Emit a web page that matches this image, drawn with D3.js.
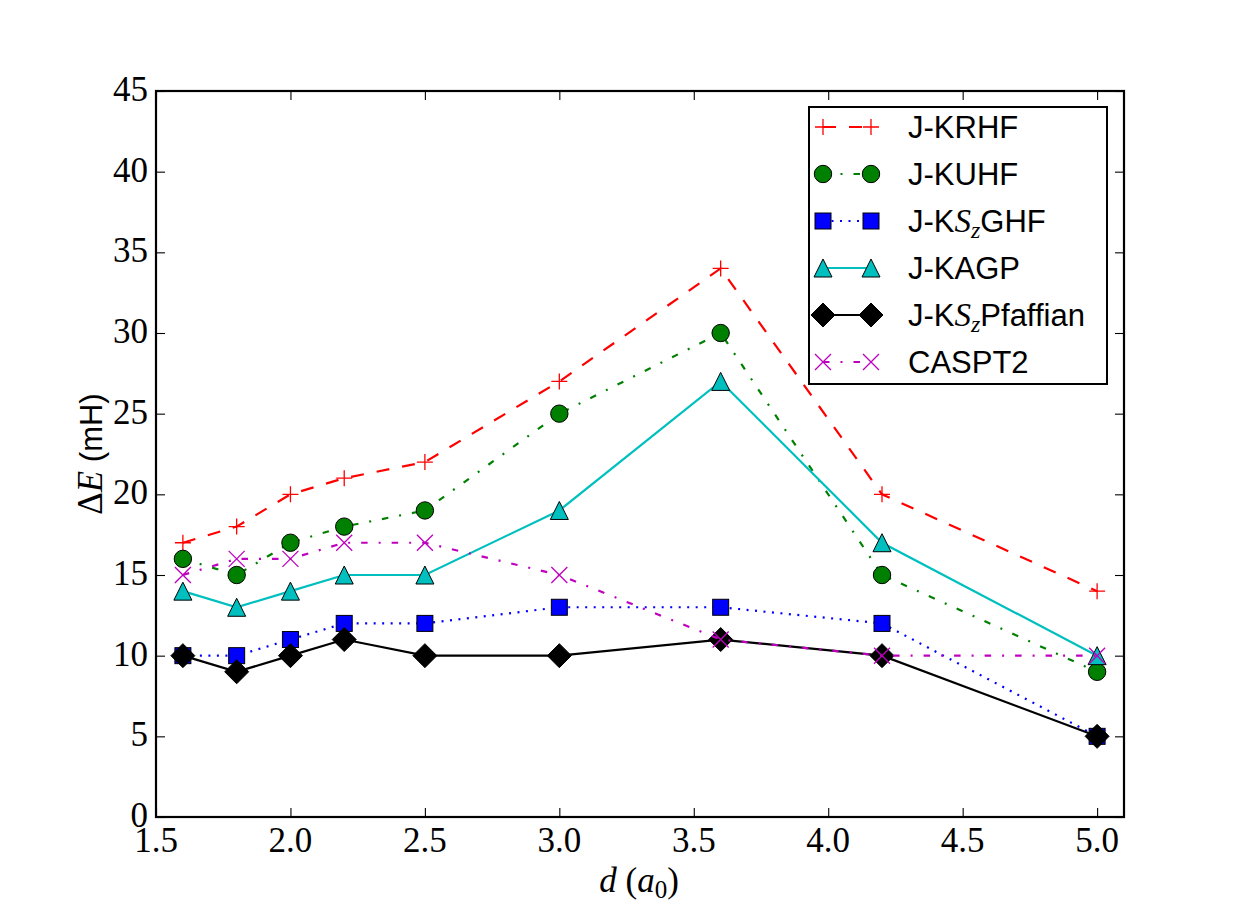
<!DOCTYPE html>
<html>
<head>
<meta charset="utf-8">
<script src="https://cdn.jsdelivr.net/npm/d3@7"></script>
<style>
  body { margin: 0; background: #ffffff; }
  svg { display: block; }
</style>
</head>
<body>
<div id="chart"></div>
<script>
// data
var distances = [1.6, 1.8, 2.0, 2.2, 2.5, 3.0, 3.6, 4.2, 5.0];
var krhf      = [17, 18, 20, 21, 22, 27, 34, 20, 14];
var kuhf      = [16, 15, 17, 18, 19, 25, 30, 15, 9];
var kszghf    = [10, 10, 11, 12, 12, 13, 13, 12, 5];
var kagp      = [14, 13, 14, 15, 15, 19, 27, 17, 10];
var pfaffian  = [10, 9, 10, 11, 10, 10, 11, 10, 5];
var caspt2    = [15, 16, 16, 17, 17, 15, 11, 10, 10];
var xTicks = [1.5, 2.0, 2.5, 3.0, 3.5, 4.0, 4.5, 5.0];
var yTicks = [0, 5, 10, 15, 20, 25, 30, 35, 40, 45];

var width = 1249, height = 908;
var margin = {left: 156, right: 125, top: 91, bottom: 91};
var serif = "'Liberation Serif', 'DejaVu Serif', serif";
var sans = "'Liberation Sans', Arial, sans-serif";

// series config: name parts, color, dash, marker
var series = [
  {name: [["J-KRHF"]], values: krhf, color: "#ff0000", dash: "13,13", marker: "plus"},
  {name: [["J-KUHF"]], values: kuhf, color: "#008000", dash: "6.5,11,2,11", marker: "circle"},
  {name: [["J-K"], ["S", "m"], ["z", "sub"], ["GHF"]], values: kszghf, color: "#0000ff", dash: "2,6.5", marker: "square"},
  {name: [["J-KAGP"]], values: kagp, color: "#00bfbf", dash: null, marker: "triangle"},
  {name: [["J-K"], ["S", "m"], ["z", "sub"], ["Pfaffian"]], values: pfaffian, color: "#000000", dash: null, marker: "diamond"},
  {name: [["CASPT2"]], values: caspt2, color: "#bf00bf", dash: "6.5,11,2,11", marker: "cross"}
];

var svg = d3.select("#chart").append("svg")
  .attr("width", width)
  .attr("height", height);

var x = d3.scaleLinear().domain([1.5, 5.1]).range([margin.left, width - margin.right]);
var y = d3.scaleLinear().domain([0, 45]).range([height - margin.bottom, margin.top]);

var x0 = margin.left, x1 = width - margin.right;
var y0 = height - margin.bottom, y1 = margin.top;
var tickLen = 9;

// ticks (inside, on all four sides)
var axes = svg.append("g").attr("class", "axes");
axes.append("g")
  .attr("transform", "translate(0," + y0 + ")")
  .call(d3.axisTop(x).tickValues(xTicks).tickSize(tickLen).tickFormat(""))
  .call(function(g) { g.select(".domain").remove(); });
axes.append("g")
  .attr("transform", "translate(0," + y1 + ")")
  .call(d3.axisBottom(x).tickValues(xTicks).tickSize(tickLen).tickFormat(""))
  .call(function(g) { g.select(".domain").remove(); });
axes.append("g")
  .attr("transform", "translate(" + x0 + ",0)")
  .call(d3.axisRight(y).tickValues(yTicks).tickSize(tickLen).tickFormat(""))
  .call(function(g) { g.select(".domain").remove(); });
axes.append("g")
  .attr("transform", "translate(" + x1 + ",0)")
  .call(d3.axisLeft(y).tickValues(yTicks).tickSize(tickLen).tickFormat(""))
  .call(function(g) { g.select(".domain").remove(); });
axes.selectAll(".tick line").attr("stroke", "#000").attr("stroke-width", 1.1);

// tick labels
axes.selectAll("text.xlab")
  .data(xTicks).enter().append("text")
  .attr("class", "xlab")
  .attr("x", function(d) { return x(d); })
  .attr("y", y0 + 35)
  .attr("text-anchor", "middle")
  .attr("font-family", serif)
  .attr("font-size", 35)
  .text(function(d) { return d.toFixed(1); });
axes.selectAll("text.ylab")
  .data(yTicks).enter().append("text")
  .attr("class", "ylab")
  .attr("x", x0 - 8)
  .attr("y", function(d) { return y(d) + 10; })
  .attr("text-anchor", "end")
  .attr("font-family", serif)
  .attr("font-size", 35)
  .text(function(d) { return d; });

// marker drawing
function drawMarker(g, type, cx, cy, color) {
  if (type === "plus") {
    g.append("path").attr("d", "M" + (cx - 8) + "," + cy + "H" + (cx + 8) + "M" + cx + "," + (cy - 8) + "V" + (cy + 8))
      .attr("stroke", color).attr("stroke-width", 1.3).attr("fill", "none");
  } else if (type === "cross") {
    g.append("path").attr("d", "M" + (cx - 8) + "," + (cy - 8) + "L" + (cx + 8) + "," + (cy + 8) + "M" + (cx - 8) + "," + (cy + 8) + "L" + (cx + 8) + "," + (cy - 8))
      .attr("stroke", color).attr("stroke-width", 1.3).attr("fill", "none");
  } else if (type === "circle") {
    g.append("circle").attr("cx", cx).attr("cy", cy).attr("r", 8.7)
      .attr("fill", color).attr("stroke", "#000").attr("stroke-width", 1);
  } else if (type === "square") {
    g.append("rect").attr("x", cx - 8).attr("y", cy - 8).attr("width", 16).attr("height", 16)
      .attr("fill", color).attr("stroke", "#000").attr("stroke-width", 1);
  } else if (type === "triangle") {
    g.append("path").attr("d", "M" + cx + "," + (cy - 9) + "L" + (cx + 9) + "," + (cy + 9) + "L" + (cx - 9) + "," + (cy + 9) + "Z")
      .attr("fill", color).attr("stroke", "#000").attr("stroke-width", 1);
  } else if (type === "diamond") {
    g.append("path").attr("d", "M" + cx + "," + (cy - 12) + "L" + (cx + 12) + "," + cy + "L" + cx + "," + (cy + 12) + "L" + (cx - 12) + "," + cy + "Z")
      .attr("fill", color).attr("stroke", "#000").attr("stroke-width", 1);
  }
}

// lines and markers
var plot = svg.append("g").attr("class", "plot");
var line = d3.line()
  .x(function(d, i) { return x(distances[i]); })
  .y(function(d) { return y(d); });

series.forEach(function(s) {
  var g = plot.append("g");
  g.append("path")
    .attr("d", line(s.values))
    .attr("fill", "none")
    .attr("stroke", s.color)
    .attr("stroke-width", 2.2)
    .attr("stroke-dasharray", s.dash);
  s.values.forEach(function(v, i) {
    drawMarker(g, s.marker, x(distances[i]), y(v), s.color);
  });
});

// frame
svg.append("rect")
  .attr("x", x0).attr("y", y1)
  .attr("width", x1 - x0).attr("height", y0 - y1)
  .attr("fill", "none").attr("stroke", "#000").attr("stroke-width", 2.2);

// legend
var legend = svg.append("g").attr("class", "legend");
legend.append("rect")
  .attr("x", 809).attr("y", 107).attr("width", 298).attr("height", 277)
  .attr("fill", "#fff").attr("stroke", "#000").attr("stroke-width", 2);

series.forEach(function(s, i) {
  var ly = 127 + i * 47;
  var g = legend.append("g");
  g.append("line")
    .attr("x1", 823).attr("x2", 871).attr("y1", ly).attr("y2", ly)
    .attr("stroke", s.color).attr("stroke-width", 2.2)
    .attr("stroke-dasharray", s.dash);
  drawMarker(g, s.marker, 823, ly, s.color);
  drawMarker(g, s.marker, 871, ly, s.color);
  var t = g.append("text")
    .attr("x", 908).attr("y", ly + 11)
    .attr("font-family", sans)
    .attr("font-size", 31);
  var prevSub = false;
  s.name.forEach(function(part) {
    var sp = t.append("tspan").text(part[0]);
    if (part[1] === "m") {
      sp.attr("font-family", serif).attr("font-style", "italic").attr("font-size", 33);
    } else if (part[1] === "sub") {
      sp.attr("font-family", serif).attr("font-style", "italic")
        .attr("font-size", 24).attr("dy", 6);
    } else if (prevSub) {
      sp.attr("dy", -6);
    }
    prevSub = part[1] === "sub";
  });
});

// axis titles
var xt = svg.append("text")
  .attr("x", (x0 + x1) / 2 - 1).attr("y", 892)
  .attr("text-anchor", "middle")
  .attr("font-family", serif)
  .attr("font-size", 35);
xt.append("tspan").attr("font-style", "italic").text("d");
xt.append("tspan").text(" (");
xt.append("tspan").attr("font-style", "italic").text("a");
xt.append("tspan").attr("font-size", 25).attr("dy", 6).text("0");
xt.append("tspan").attr("dy", -6).text(")");

var yt = svg.append("text")
  .attr("transform", "translate(102," + ((y0 + y1) / 2) + ") rotate(-90)")
  .attr("text-anchor", "middle")
  .attr("font-size", 31);
yt.append("tspan").attr("font-family", serif).attr("font-size", 35).text("Δ");
yt.append("tspan").attr("font-family", serif).attr("font-size", 35).attr("font-style", "italic").text("E");
yt.append("tspan").attr("font-family", sans).text(" (mH)");
</script>
</body>
</html>
